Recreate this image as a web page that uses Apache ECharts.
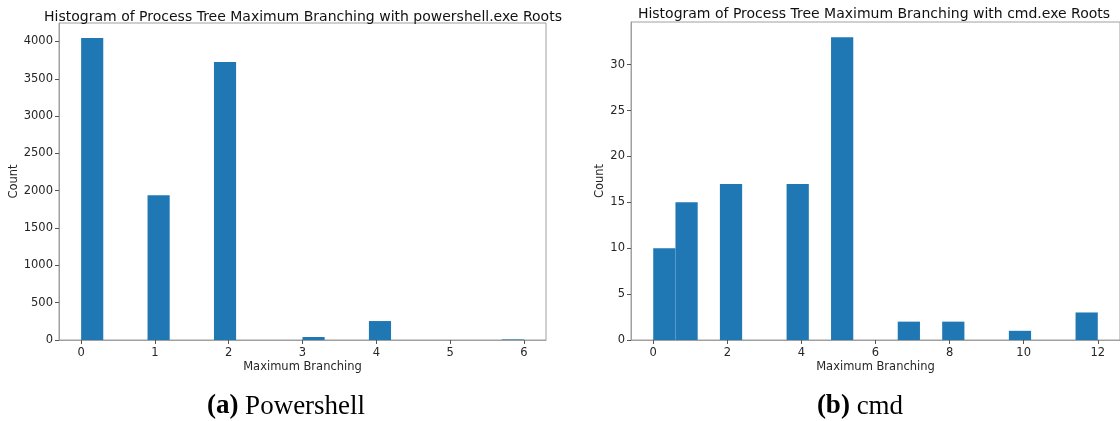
<!DOCTYPE html>
<html>
<head>
<meta charset="utf-8">
<script src="https://cdn.jsdelivr.net/npm/echarts@6/dist/echarts.min.js"></script>
<style>
  html, body { margin: 0; padding: 0; background: #fff; }
  #chart { width: 1120px; height: 421px; }
</style>
</head>
<body>
<div id="chart"></div>
<script>
// powershell.exe roots: 20 bins over [0, 6]
var psRange = [0, 6];
var psCounts = [4045, 0, 0, 1938, 0, 0, 3725, 0, 0, 0, 40, 0, 0, 254, 0, 0, 0, 0, 0, 8];
var psTicksX = [0, 1, 2, 3, 4, 5, 6];
var psTicksY = [0, 500, 1000, 1500, 2000, 2500, 3000, 3500, 4000];

// cmd.exe roots: 20 bins over [0, 12]
var cmdRange = [0, 12];
var cmdCounts = [10, 15, 0, 17, 0, 0, 17, 0, 33, 0, 0, 2, 0, 2, 0, 0, 1, 0, 0, 3];
var cmdTicksX = [0, 2, 4, 6, 8, 10, 12];
var cmdTicksY = [0, 5, 10, 15, 20, 25, 30];

function bins(range, counts) {
  var w = (range[1] - range[0]) / counts.length;
  var out = [];
  for (var i = 0; i < counts.length; i++) {
    if (counts[i] > 0) out.push([range[0] + i * w, range[0] + (i + 1) * w, counts[i]]);
  }
  return out;
}
function pad(range) {
  var m = (range[1] - range[0]) * 0.05;
  return [range[0] - m, range[1] + m];
}
function maxOf(a) { return Math.max.apply(null, a); }

var spine = '#a0a0a0';
var txt = '#262626';
var font = 'DejaVu Sans';
var plain = function (v) { return String(v); };

function renderBar(params, api) {
  var s = api.coord([api.value(0), api.value(2)]);
  var e = api.coord([api.value(1), 0]);
  return {
    type: 'rect',
    shape: { x: s[0], y: s[1], width: e[0] - s[0], height: e[1] - s[1] },
    style: { fill: '#1f77b4' }
  };
}

function xAxisFor(idx, range, ticks) {
  var p = pad(range);
  return {
    gridIndex: idx, type: 'value', min: p[0], max: p[1],
    name: 'Maximum Branching', nameLocation: 'middle', nameGap: 21, nameMoveOverlap: false,
    nameTextStyle: { fontFamily: font, fontSize: 11.5, color: txt },
    axisLine: { show: true, onZero: false, lineStyle: { color: spine } },
    axisTick: { show: true, length: 4, customValues: ticks, lineStyle: { color: '#555' } },
    axisLabel: { customValues: ticks, formatter: plain, fontFamily: font, fontSize: 11.5, color: txt, margin: 7 },
    splitLine: { show: false }
  };
}
function yAxisFor(idx, counts, ticks, gap) {
  return {
    gridIndex: idx, type: 'value', min: 0, max: maxOf(counts) * 1.05,
    name: 'Count', nameLocation: 'middle', nameGap: gap,
    nameTextStyle: { fontFamily: font, fontSize: 11.5, color: txt },
    axisLine: { show: true, onZero: false, lineStyle: { color: spine } },
    axisTick: { show: true, length: 4, customValues: ticks, lineStyle: { color: '#555' } },
    axisLabel: { customValues: ticks, formatter: plain, fontFamily: font, fontSize: 11.5, color: txt, margin: 6 },
    splitLine: { show: false }
  };
}

var capStyle = {
  fontFamily: 'Liberation Serif', fontSize: 27, fontWeight: 'normal', color: '#000',
  rich: { b: { fontFamily: 'Liberation Serif', fontSize: 27, fontWeight: 'bold', color: '#000' } }
};

var chart = echarts.init(document.getElementById('chart'));
var option = {
  backgroundColor: '#fff',
  animation: false,
  title: [
    { text: 'Histogram of Process Tree Maximum Branching with powershell.exe Roots',
      left: 298, top: 5, textAlign: 'center',
      textStyle: { fontFamily: font, fontSize: 14, fontWeight: 'normal', color: '#111' } },
    { text: 'Histogram of Process Tree Maximum Branching with cmd.exe Roots',
      left: 869, top: 2, textAlign: 'center',
      textStyle: { fontFamily: font, fontSize: 14, fontWeight: 'normal', color: '#111' } },
    { text: '{b|(a)} Powershell', left: 281, top: 388, textAlign: 'center', textStyle: capStyle },
    { text: '{b|(b)} cmd', left: 855, top: 388, textAlign: 'center', textStyle: capStyle }
  ],
  grid: [
    { left: 59, top: 23, width: 487, height: 317, show: true, borderColor: spine, borderWidth: 1 },
    { left: 631, top: 22, width: 491, height: 318, show: true, borderColor: spine, borderWidth: 1 }
  ],
  xAxis: [xAxisFor(0, psRange, psTicksX), xAxisFor(1, cmdRange, cmdTicksX)],
  yAxis: [yAxisFor(0, psCounts, psTicksY, 37), yAxisFor(1, cmdCounts, cmdTicksY, 24)],
  series: [
    { type: 'custom', xAxisIndex: 0, yAxisIndex: 0, renderItem: renderBar,
      encode: { x: [0, 1], y: 2 }, data: bins(psRange, psCounts) },
    { type: 'custom', xAxisIndex: 1, yAxisIndex: 1, renderItem: renderBar,
      encode: { x: [0, 1], y: 2 }, data: bins(cmdRange, cmdCounts) }
  ]
};
chart.setOption(option);
window.addEventListener('resize', function () {
  chart.resize();
});
</script>
</body>
</html>
